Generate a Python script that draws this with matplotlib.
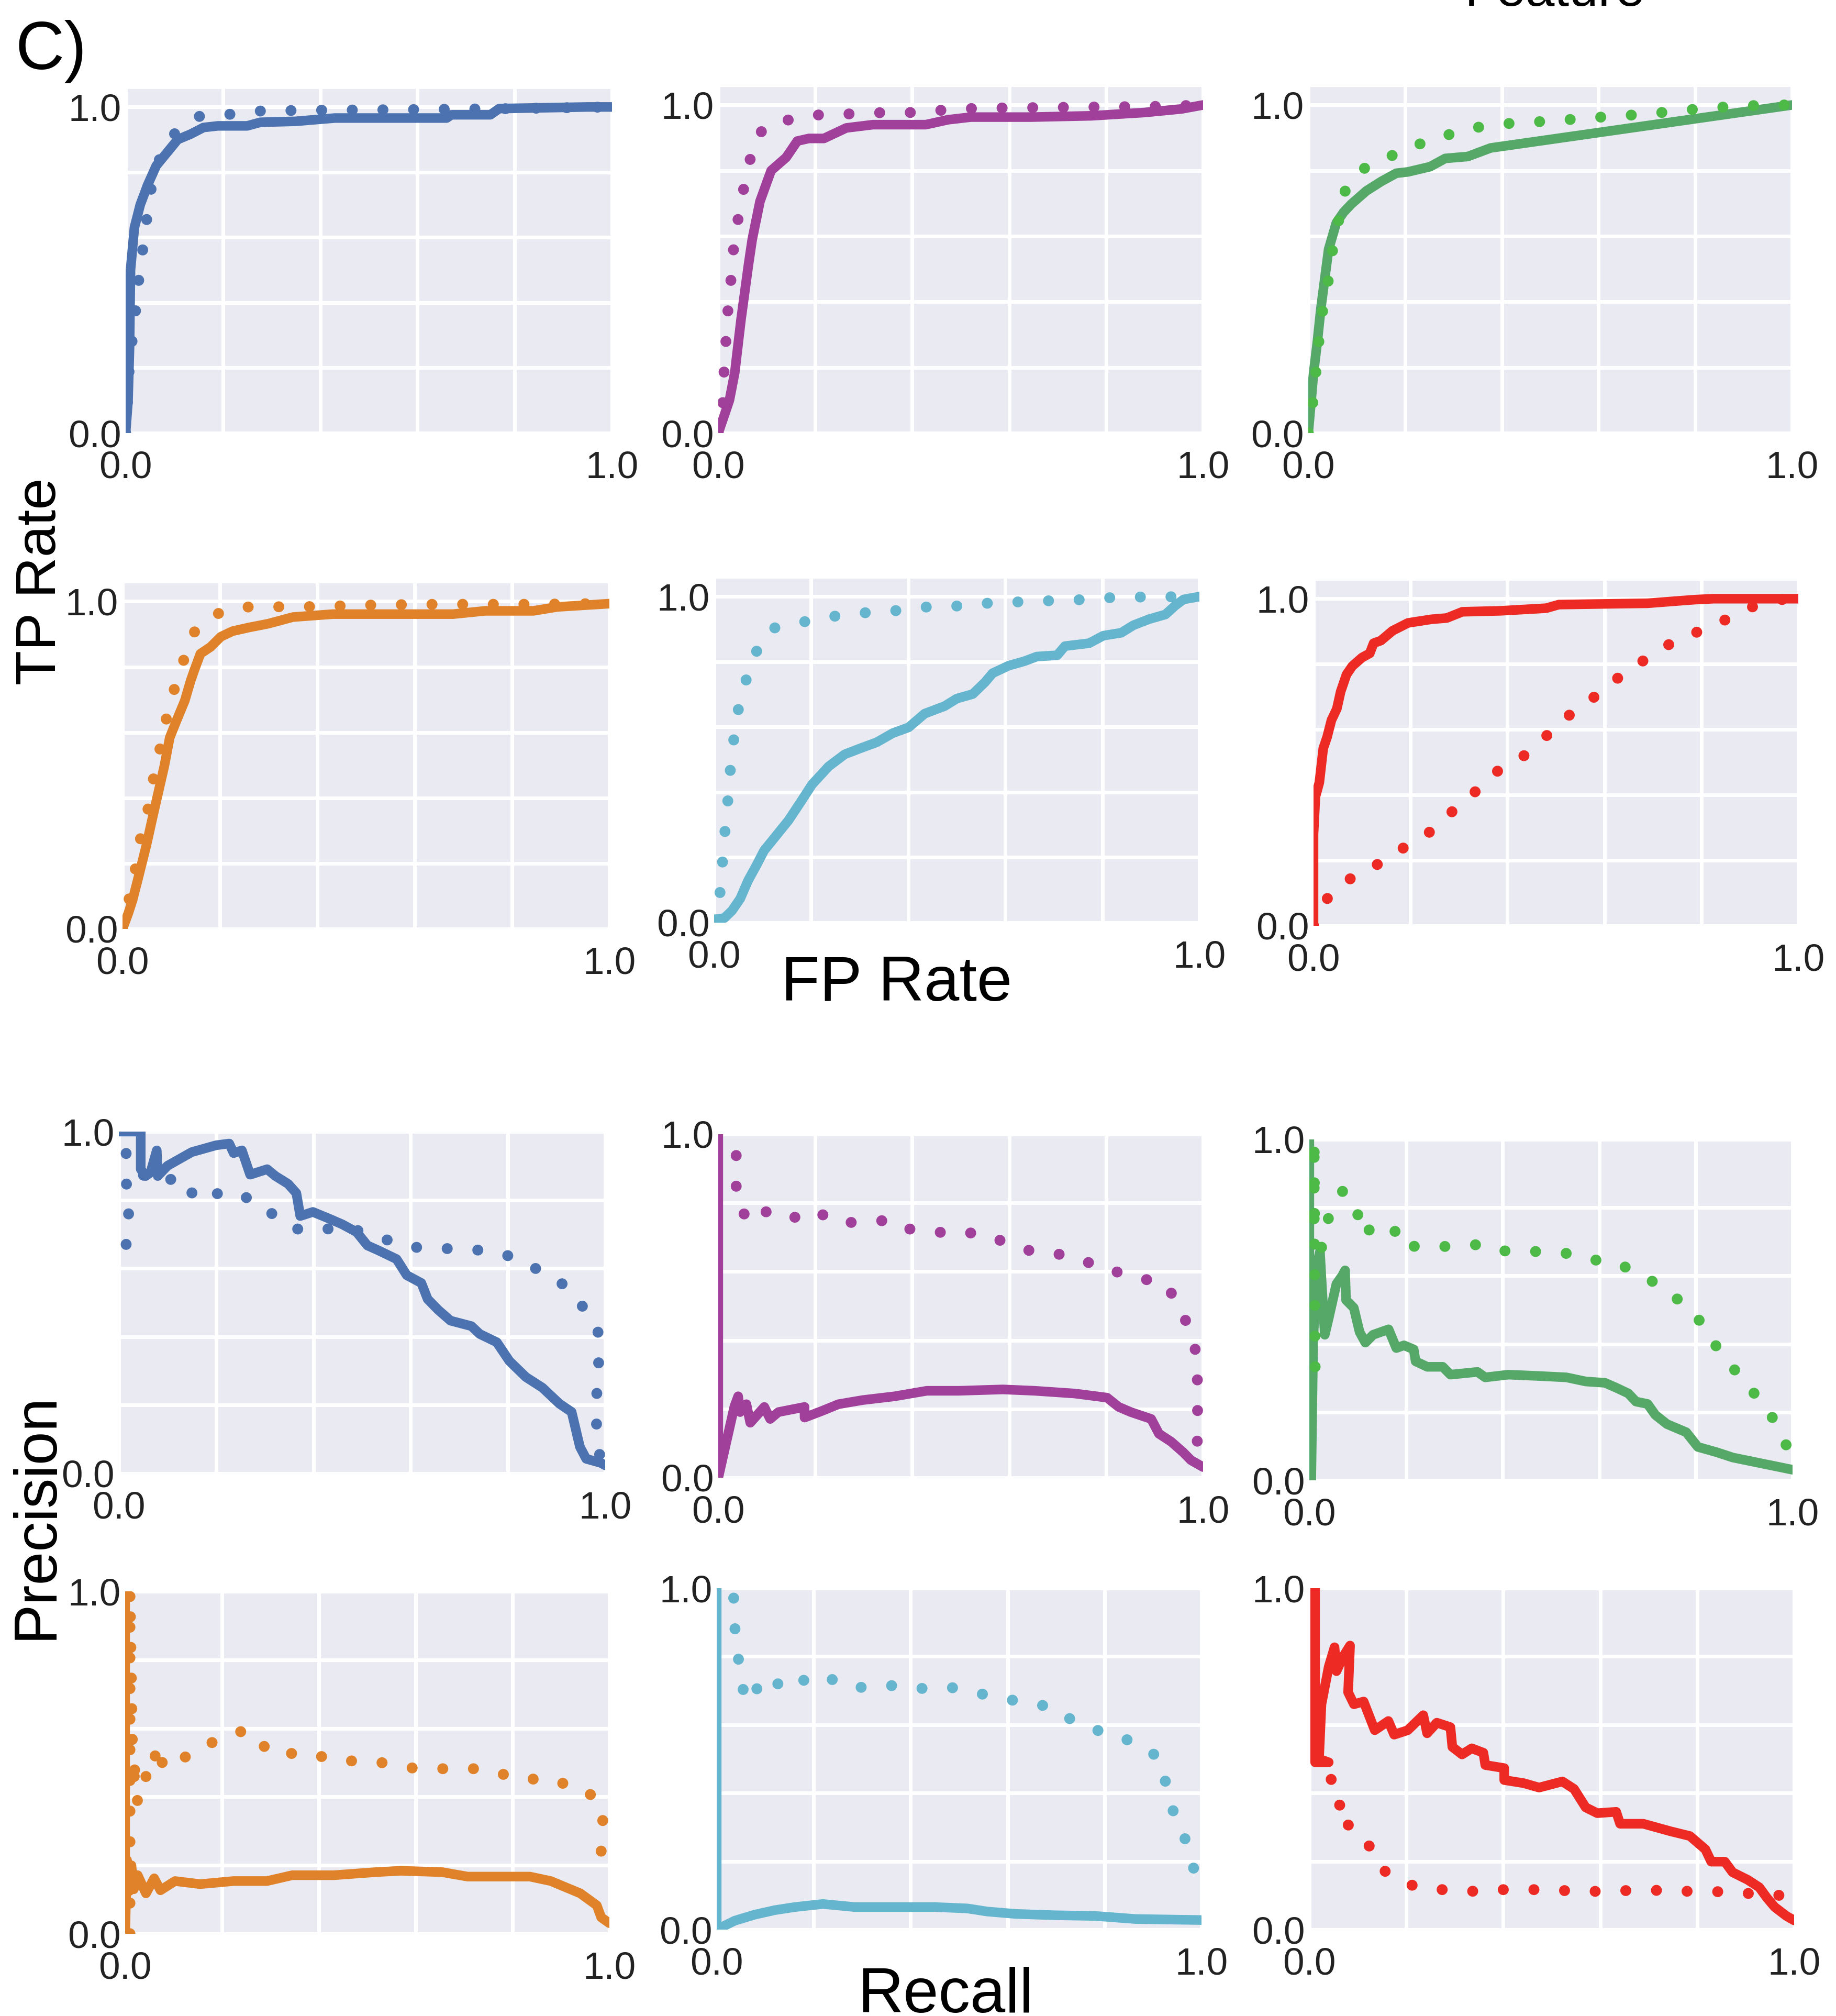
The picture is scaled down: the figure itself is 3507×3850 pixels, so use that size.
import matplotlib
matplotlib.use("Agg")
import matplotlib.pyplot as plt

W, H, DPI = 3507, 3850, 300

# ---- ROC curves (solid = model, dotted = baseline) ----
roc_blue_x = [0, 0.005, 0.008, 0.01, 0.018, 0.03, 0.045, 0.063, 0.085, 0.107, 0.134, 0.16, 0.19, 0.25, 0.277, 0.35, 0.43, 0.66, 0.67, 0.75, 0.768, 0.95, 1.0]
roc_blue_y = [0, 0.1, 0.26, 0.5, 0.63, 0.70, 0.76, 0.82, 0.86, 0.90, 0.917, 0.937, 0.942, 0.942, 0.953, 0.956, 0.966, 0.966, 0.976, 0.976, 0.995, 1.0, 1.0]
roc_blue_dx = [0, 0.004, 0.007, 0.013, 0.02, 0.027, 0.034, 0.042, 0.05, 0.065, 0.08, 0.112, 0.154, 0.22, 0.28, 0.4, 0.6, 0.8, 1.0]
roc_blue_dy = [0, 0.1, 0.19, 0.28, 0.37, 0.47, 0.55, 0.64, 0.735, 0.82, 0.883, 0.937, 0.973, 0.978, 0.988, 0.99, 0.992, 0.995, 1.0]

roc_purple_x = [0, 0.023, 0.034, 0.047, 0.062, 0.07, 0.086, 0.109, 0.14, 0.163, 0.187, 0.218, 0.264, 0.319, 0.428, 0.474, 0.521, 0.645, 0.77, 0.879, 0.956, 1.0]
roc_purple_y = [0, 0.10, 0.184, 0.347, 0.51, 0.59, 0.706, 0.80, 0.84, 0.89, 0.898, 0.898, 0.93, 0.94, 0.94, 0.955, 0.963, 0.963, 0.967, 0.977, 0.988, 1.0]
roc_purple_dx = [0, 0.01, 0.012, 0.016, 0.02, 0.026, 0.031, 0.04, 0.051, 0.062, 0.075, 0.101, 0.156, 0.213, 0.28, 0.342, 0.404, 0.47, 0.533, 0.66, 0.793, 0.925, 1.0]
roc_purple_dy = [0, 0.1, 0.19, 0.286, 0.376, 0.465, 0.555, 0.645, 0.735, 0.81, 0.894, 0.94, 0.958, 0.971, 0.973, 0.977, 0.977, 0.985, 0.99, 0.992, 0.994, 0.996, 1.0]

roc_green_x = [0, 0.011, 0.019, 0.026, 0.034, 0.042, 0.058, 0.073, 0.089, 0.12, 0.151, 0.182, 0.206, 0.252, 0.283, 0.33, 0.377, 0.439, 1.0]
roc_green_y = [0, 0.184, 0.282, 0.38, 0.47, 0.56, 0.641, 0.673, 0.698, 0.738, 0.767, 0.792, 0.796, 0.812, 0.837, 0.843, 0.869, 0.882, 1.0]
roc_green_dx = [0, 0.01, 0.022, 0.03, 0.042, 0.05, 0.062, 0.069, 0.092, 0.128, 0.175, 0.203, 0.26, 0.307, 0.362, 0.424, 0.49, 0.553, 0.623, 0.689, 0.751, 0.82, 0.886, 0.953, 1.0]
roc_green_dy = [0, 0.1, 0.28, 0.377, 0.47, 0.556, 0.64, 0.718, 0.78, 0.82, 0.847, 0.873, 0.89, 0.92, 0.935, 0.945, 0.95, 0.957, 0.965, 0.971, 0.98, 0.99, 0.996, 1.0, 1.0]

roc_orange_x = [0, 0.012, 0.021, 0.033, 0.049, 0.062, 0.074, 0.086, 0.097, 0.111, 0.128, 0.14, 0.148, 0.16, 0.181, 0.202, 0.226, 0.259, 0.3, 0.35, 0.432, 0.679, 0.745, 0.844, 0.893, 1.0]
roc_orange_y = [0, 0.048, 0.09, 0.16, 0.255, 0.342, 0.42, 0.498, 0.584, 0.636, 0.697, 0.758, 0.792, 0.84, 0.861, 0.892, 0.909, 0.92, 0.932, 0.952, 0.961, 0.961, 0.971, 0.971, 0.983, 0.993]
roc_orange_dx = [0, 0.025, 0.033, 0.048, 0.059, 0.068, 0.082, 0.093, 0.109, 0.126, 0.142, 0.162, 0.205, 0.259, 0.4, 0.519, 0.649, 0.844, 0.971, 1.0]
roc_orange_dy = [0, 0.169, 0.255, 0.333, 0.416, 0.5, 0.578, 0.665, 0.745, 0.822, 0.896, 0.932, 0.97, 0.983, 0.984, 0.989, 0.991, 0.991, 0.993, 1.0]

roc_cyan_x = [0, 0.021, 0.037, 0.054, 0.07, 0.087, 0.103, 0.128, 0.153, 0.178, 0.202, 0.236, 0.269, 0.302, 0.335, 0.368, 0.401, 0.434, 0.475, 0.5, 0.533, 0.558, 0.574, 0.607, 0.64, 0.665, 0.707, 0.723, 0.773, 0.802, 0.839, 0.864, 0.897, 0.93, 0.95, 0.967, 1.0]
roc_cyan_y = [0.01, 0.014, 0.037, 0.074, 0.129, 0.175, 0.221, 0.267, 0.313, 0.369, 0.424, 0.479, 0.516, 0.535, 0.553, 0.581, 0.599, 0.641, 0.664, 0.687, 0.701, 0.737, 0.765, 0.788, 0.802, 0.816, 0.82, 0.848, 0.857, 0.88, 0.889, 0.912, 0.931, 0.945, 0.972, 0.991, 1.0]
roc_cyan_dx = [0, 0.014, 0.018, 0.023, 0.029, 0.034, 0.041, 0.05, 0.064, 0.081, 0.103, 0.118, 0.157, 0.217, 0.27, 0.332, 0.393, 0.453, 0.519, 0.576, 0.64, 0.705, 0.77, 0.829, 1.0]
roc_cyan_dy = [0, 0.106, 0.201, 0.29, 0.385, 0.479, 0.567, 0.654, 0.735, 0.813, 0.877, 0.901, 0.917, 0.929, 0.947, 0.952, 0.959, 0.971, 0.971, 0.982, 0.984, 0.988, 0.991, 0.998, 1.0]

roc_red_x = [0, 0.0, 0.004, 0.012, 0.02, 0.028, 0.037, 0.048, 0.056, 0.068, 0.08, 0.1, 0.116, 0.124, 0.139, 0.163, 0.195, 0.243, 0.275, 0.307, 0.386, 0.48, 0.506, 0.594, 0.689, 0.785, 0.825, 1.0]
roc_red_y = [0, 0.28, 0.395, 0.438, 0.542, 0.577, 0.629, 0.663, 0.716, 0.768, 0.794, 0.82, 0.833, 0.864, 0.872, 0.902, 0.926, 0.937, 0.941, 0.96, 0.963, 0.971, 0.982, 0.984, 0.986, 0.997, 1.0, 1.0]
roc_red_dx = [0, 0.024, 0.057, 0.101, 0.143, 0.183, 0.225, 0.263, 0.295, 0.331, 0.364, 0.398, 0.44, 0.474, 0.504, 0.534, 0.575, 0.61, 0.651, 0.689, 0.729, 0.777, 0.821, 0.869, 0.912, 0.96, 1.0]
roc_red_dy = [0, 0.076, 0.13, 0.162, 0.197, 0.236, 0.271, 0.312, 0.364, 0.406, 0.458, 0.49, 0.525, 0.575, 0.603, 0.655, 0.694, 0.743, 0.776, 0.821, 0.857, 0.889, 0.917, 0.948, 0.98, 0.997, 1.0]

# ---- Precision-recall curves ----
pr_blue_x = [0, 0.045, 0.045, 0.055, 0.065, 0.078, 0.08, 0.1, 0.15, 0.2, 0.227, 0.236, 0.253, 0.27, 0.305, 0.322, 0.348, 0.365, 0.373, 0.399, 0.433, 0.459, 0.489, 0.511, 0.536, 0.571, 0.592, 0.622, 0.635, 0.657, 0.682, 0.725, 0.742, 0.777, 0.803, 0.837, 0.871, 0.906, 0.931, 0.948, 0.961, 0.991, 1.0]
pr_blue_y = [1.0, 1.0, 0.89, 0.87, 0.88, 0.945, 0.87, 0.90, 0.94, 0.96, 0.965, 0.937, 0.945, 0.874, 0.89, 0.87, 0.847, 0.82, 0.753, 0.765, 0.745, 0.729, 0.706, 0.667, 0.651, 0.627, 0.58, 0.557, 0.51, 0.478, 0.447, 0.431, 0.408, 0.384, 0.329, 0.282, 0.251, 0.204, 0.18, 0.078, 0.043, 0.031, 0.024]
pr_blue_dx = [0.015, 0.02, 0.02, 0.025, 0.015, 0.015, 0.03, 0.06, 0.086, 0.124, 0.146, 0.167, 0.216, 0.251, 0.286, 0.313, 0.342, 0.378, 0.423, 0.464, 0.502, 0.554, 0.592, 0.644, 0.695, 0.744, 0.791, 0.828, 0.869, 0.906, 0.938, 0.961, 0.985, 0.987, 0.981, 0.983, 0.991]
pr_blue_dy = [0.67, 0.72, 0.76, 0.80, 0.85, 0.94, 0.90, 0.86, 0.847, 0.871, 0.827, 0.796, 0.827, 0.812, 0.796, 0.762, 0.728, 0.71, 0.714, 0.722, 0.706, 0.682, 0.663, 0.659, 0.657, 0.653, 0.643, 0.618, 0.592, 0.561, 0.524, 0.471, 0.42, 0.337, 0.192, 0.11, 0.031]

pr_purple_x = [0, 0, 0.033, 0.041, 0.045, 0.058, 0.066, 0.083, 0.095, 0.107, 0.124, 0.149, 0.178, 0.178, 0.215, 0.248, 0.298, 0.364, 0.43, 0.496, 0.587, 0.653, 0.736, 0.802, 0.826, 0.851, 0.893, 0.909, 0.934, 0.959, 0.975, 1.0]
pr_purple_y = [1.0, 0, 0.206, 0.237, 0.191, 0.214, 0.16, 0.187, 0.206, 0.171, 0.191, 0.198, 0.206, 0.175, 0.195, 0.214, 0.226, 0.237, 0.253, 0.253, 0.257, 0.253, 0.245, 0.233, 0.206, 0.191, 0.171, 0.128, 0.105, 0.074, 0.051, 0.031]
pr_purple_dx = [0.037, 0.037, 0.041, 0.054, 0.066, 0.089, 0.112, 0.134, 0.164, 0.205, 0.231, 0.27, 0.312, 0.361, 0.394, 0.438, 0.481, 0.535, 0.574, 0.614, 0.657, 0.707, 0.746, 0.795, 0.833, 0.879, 0.924, 0.946, 0.967, 0.983, 0.988, 0.989, 0.988, 0.988, 0.99]
pr_purple_dy = [0.938, 0.844, 0.782, 0.767, 0.743, 0.774, 0.774, 0.755, 0.759, 0.778, 0.747, 0.743, 0.745, 0.751, 0.724, 0.72, 0.708, 0.714, 0.695, 0.673, 0.655, 0.65, 0.63, 0.62, 0.591, 0.578, 0.564, 0.508, 0.449, 0.385, 0.304, 0.22, 0.154, 0.09, 0.03]

pr_green_x = [0, 0, 0.004, 0.008, 0.016, 0.022, 0.026, 0.032, 0.04, 0.056, 0.068, 0.074, 0.076, 0.092, 0.104, 0.116, 0.132, 0.164, 0.18, 0.196, 0.216, 0.22, 0.244, 0.276, 0.292, 0.348, 0.364, 0.412, 0.476, 0.532, 0.572, 0.612, 0.636, 0.66, 0.676, 0.7, 0.716, 0.74, 0.78, 0.804, 0.844, 0.876, 1.0]
pr_green_y = [1.0, 0, 0.0, 0.412, 0.631, 0.671, 0.569, 0.427, 0.475, 0.576, 0.6, 0.616, 0.529, 0.506, 0.435, 0.404, 0.427, 0.443, 0.388, 0.396, 0.384, 0.349, 0.333, 0.333, 0.31, 0.318, 0.302, 0.31, 0.306, 0.302, 0.29, 0.286, 0.271, 0.255, 0.231, 0.224, 0.192, 0.165, 0.141, 0.098, 0.082, 0.067, 0.031]
pr_green_dx = [0.012, 0.01, 0.01, 0.026, 0.04, 0.07, 0.088, 0.1, 0.108, 0.138, 0.158, 0.194, 0.208, 0.244, 0.282, 0.324, 0.366, 0.402, 0.448, 0.494, 0.54, 0.582, 0.628, 0.668, 0.704, 0.736, 0.77, 0.8, 0.826, 0.848, 0.876, 0.9, 0.934, 0.96, 0.988]
pr_green_dy = [0.333, 1.0, 0.72, 0.682, 0.772, 0.851, 0.827, 0.782, 0.718, 0.749, 0.725, 0.735, 0.686, 0.688, 0.686, 0.69, 0.692, 0.673, 0.673, 0.669, 0.665, 0.647, 0.643, 0.616, 0.59, 0.555, 0.524, 0.482, 0.434, 0.378, 0.333, 0.28, 0.239, 0.18, 0.1]

pr_orange_x = [0, 0, 0.004, 0.009, 0.013, 0.018, 0.026, 0.043, 0.06, 0.073, 0.103, 0.155, 0.224, 0.293, 0.345, 0.431, 0.517, 0.569, 0.655, 0.707, 0.836, 0.879, 0.94, 0.974, 0.983, 1.0]
pr_orange_y = [1.0, 0, 0.215, 0.125, 0.2, 0.13, 0.171, 0.118, 0.162, 0.127, 0.154, 0.145, 0.154, 0.154, 0.171, 0.171, 0.18, 0.184, 0.18, 0.167, 0.167, 0.154, 0.118, 0.083, 0.048, 0.031]
pr_orange_dx = [0.01, 0.01, 0.015, 0.026, 0.017, 0.043, 0.043, 0.056, 0.069, 0.073, 0.084, 0.102, 0.121, 0.148, 0.177, 0.213, 0.25, 0.276, 0.297, 0.334, 0.369, 0.412, 0.448, 0.496, 0.539, 0.582, 0.628, 0.679, 0.731, 0.773, 0.825, 0.864, 0.918, 0.957, 0.984, 0.987, 0.983, 0.984]
pr_orange_dy = [0.0, 1.0, 0.55, 0.38, 0.48, 0.49, 0.447, 0.491, 0.553, 0.509, 0.482, 0.506, 0.513, 0.541, 0.557, 0.577, 0.596, 0.568, 0.529, 0.531, 0.515, 0.518, 0.504, 0.506, 0.498, 0.485, 0.482, 0.482, 0.482, 0.466, 0.463, 0.438, 0.44, 0.412, 0.373, 0.318, 0.241, 0.161]

pr_cyan_x = [0, 0, 0.037, 0.079, 0.12, 0.161, 0.219, 0.285, 0.368, 0.45, 0.517, 0.558, 0.616, 0.698, 0.781, 0.864, 1.0]
pr_cyan_y = [1.0, 0.0, 0.026, 0.044, 0.057, 0.066, 0.075, 0.066, 0.066, 0.066, 0.062, 0.053, 0.046, 0.042, 0.04, 0.031, 0.028]
pr_cyan_dx = [0.035, 0.037, 0.04, 0.045, 0.05, 0.055, 0.071, 0.083, 0.107, 0.124, 0.16, 0.183, 0.223, 0.252, 0.285, 0.329, 0.372, 0.413, 0.463, 0.508, 0.55, 0.595, 0.638, 0.686, 0.719, 0.759, 0.799, 0.843, 0.882, 0.915, 0.927, 0.94, 0.961, 0.973, 0.988, 0.984]
pr_cyan_dy = [0.971, 0.897, 0.83, 0.791, 0.744, 0.699, 0.74, 0.705, 0.743, 0.718, 0.749, 0.727, 0.744, 0.722, 0.707, 0.716, 0.714, 0.705, 0.712, 0.705, 0.689, 0.677, 0.663, 0.654, 0.623, 0.601, 0.575, 0.558, 0.536, 0.498, 0.425, 0.352, 0.297, 0.222, 0.163, 0.121]

pr_red_x = [0.012, 0.012, 0.04, 0.02, 0.025, 0.04, 0.052, 0.056, 0.07, 0.084, 0.08, 0.092, 0.112, 0.124, 0.135, 0.163, 0.175, 0.203, 0.235, 0.243, 0.263, 0.291, 0.295, 0.315, 0.335, 0.359, 0.363, 0.402, 0.402, 0.442, 0.474, 0.522, 0.546, 0.57, 0.594, 0.633, 0.641, 0.689, 0.745, 0.785, 0.817, 0.829, 0.857, 0.873, 0.904, 0.928, 0.944, 0.96, 0.984, 1.0]
pr_red_y = [1.0, 0.49, 0.49, 0.5, 0.66, 0.77, 0.827, 0.757, 0.8, 0.832, 0.695, 0.66, 0.668, 0.624, 0.584, 0.611, 0.571, 0.584, 0.628, 0.575, 0.606, 0.593, 0.535, 0.513, 0.531, 0.518, 0.482, 0.473, 0.438, 0.429, 0.416, 0.434, 0.412, 0.358, 0.341, 0.345, 0.31, 0.31, 0.288, 0.274, 0.235, 0.199, 0.199, 0.168, 0.146, 0.124, 0.093, 0.066, 0.04, 0.027]
pr_red_dx = [0.045, 0.05, 0.042, 0.056, 0.074, 0.06, 0.084, 0.094, 0.112, 0.129, 0.142, 0.163, 0.195, 0.229, 0.275, 0.324, 0.38, 0.44, 0.5, 0.548, 0.61, 0.667, 0.725, 0.785, 0.846, 0.904, 0.964, 0.984]
pr_red_dy = [0.44, 0.42, 0.403, 0.376, 0.345, 0.319, 0.304, 0.274, 0.257, 0.239, 0.192, 0.161, 0.139, 0.121, 0.117, 0.111, 0.117, 0.117, 0.117, 0.112, 0.112, 0.115, 0.115, 0.112, 0.111, 0.106, 0.102, 0.095]

# colours (solid, dotted)
blue = ('#4C72B0', '#4C72B0')
purple = ('#A0409A', '#A0409A')
green = ('#55A868', '#4DBA48')
orange = ('#E0822A', '#E0822A')
cyan = ('#64B5CD', '#64B5CD')
red = ('#EE2A24', '#EE2A24')

# panel boxes in pixels: left, top, right, bottom
roc_boxes = [(240, 170, 1169, 827), (1372, 166, 2298, 827), (2499, 166, 3423, 827),
             (234, 1114, 1164, 1774), (1364, 1105, 2291, 1762), (2509, 1109, 3435, 1768)]
pr_boxes = [(227, 2161, 1156, 2814), (1372, 2166, 2298, 2822), (2501, 2176, 3424, 2827),
            (239, 3039, 1164, 3693), (1369, 3033, 2295, 3685), (2501, 3033, 3427, 3685)]

SOLID_LW = 4.4
DOT_LW = 5.0
DOT_GAP = 14.0  # points between dot centres

plt.rcParams['font.family'] = ['Liberation Sans', 'DejaVu Sans']
fig = plt.figure(figsize=(W / DPI, H / DPI), dpi=DPI)


def draw_panel(box, sx, sy, dx, dy, colors, ytop):
    l, t, r, b = box
    ax = fig.add_axes([l / W, 1 - b / H, (r - l) / W, (b - t) / H])
    ax.set_facecolor('#EAEAF2')
    ax.plot(sx, sy, color=colors[0], lw=SOLID_LW,
            solid_capstyle='round', solid_joinstyle='round')
    ax.plot(dx, dy, color=colors[1], lw=DOT_LW,
            linestyle=(0, (0.01, DOT_GAP / DOT_LW)), dash_capstyle='round')
    ax.set_xlim(0, 1)
    ax.set_ylim(0, ytop)
    ticks = [0, 0.2, 0.4, 0.6, 0.8, 1.0]
    labels = ['0.0', '', '', '', '', '1.0']
    ax.set_xticks(ticks)
    ax.set_yticks(ticks)
    ax.set_xticklabels(labels)
    ax.set_yticklabels(labels)
    ax.tick_params(length=0, labelsize=17.5, colors='#222222')
    ax.tick_params(axis='x', pad=8)
    ax.tick_params(axis='y', pad=2)
    ax.grid(True, color='white', lw=1.7)
    ax.set_axisbelow(True)
    for s in ax.spines.values():
        s.set_visible(False)
    return ax


roc_data = [
    (roc_blue_x, roc_blue_y, roc_blue_dx, roc_blue_dy, blue),
    (roc_purple_x, roc_purple_y, roc_purple_dx, roc_purple_dy, purple),
    (roc_green_x, roc_green_y, roc_green_dx, roc_green_dy, green),
    (roc_orange_x, roc_orange_y, roc_orange_dx, roc_orange_dy, orange),
    (roc_cyan_x, roc_cyan_y, roc_cyan_dx, roc_cyan_dy, cyan),
    (roc_red_x, roc_red_y, roc_red_dx, roc_red_dy, red),
]
pr_data = [
    (pr_blue_x, pr_blue_y, pr_blue_dx, pr_blue_dy, blue),
    (pr_purple_x, pr_purple_y, pr_purple_dx, pr_purple_dy, purple),
    (pr_green_x, pr_green_y, pr_green_dx, pr_green_dy, green),
    (pr_orange_x, pr_orange_y, pr_orange_dx, pr_orange_dy, orange),
    (pr_cyan_x, pr_cyan_y, pr_cyan_dx, pr_cyan_dy, cyan),
    (pr_red_x, pr_red_y, pr_red_dx, pr_red_dy, red),
]

for box, (sx, sy, dx, dy, c) in zip(roc_boxes, roc_data):
    draw_panel(box, sx, sy, dx, dy, c, 1.055)
for box, (sx, sy, dx, dy, c) in zip(pr_boxes, pr_data):
    draw_panel(box, sx, sy, dx, dy, c, 1.0)

# labels
fig.text(30 / W, 1 - 132 / H, 'C)', fontsize=31, ha='left', va='baseline')
fig.text(2970 / W, 1 - 11 / H, 'Feature', fontsize=24, ha='center', va='baseline')
fig.text(1713 / W, 1 - 1911 / H, 'FP Rate', fontsize=29, ha='center', va='baseline')
fig.text(1806 / W, 1 - 3843 / H, 'Recall', fontsize=29, ha='center', va='baseline')
fig.text(106 / W, 1 - 1110 / H, 'TP Rate', fontsize=26, rotation=90,
         rotation_mode='anchor', ha='center', va='baseline')
fig.text(100 / W, 1 - 2895 / H, 'Precision', fontsize=27.5, rotation=90,
         rotation_mode='anchor', ha='center', va='baseline')

fig.savefig('out.png', dpi=DPI, facecolor='white')
